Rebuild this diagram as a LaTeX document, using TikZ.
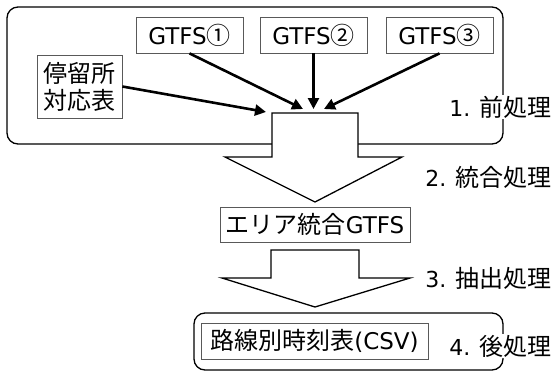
\documentclass[tikz,border=0pt]{standalone}
\usepackage{fontspec}
\setmainfont{DejaVu Sans}
\newfontfamily\cjk{Noto Sans CJK JP}
\newcommand\jpx[1]{{\cjk\fontsize{24}{27}\selectfont #1}}
\usetikzlibrary{arrows.meta}
\begin{document}
\begin{tikzpicture}[x=1pt,y=-1pt,
  txtbox/.style={draw=black!65,line width=0.8pt,inner sep=0pt,font=\fontsize{23}{27}\selectfont,align=center},
  lbl/.style={fill=white,inner sep=1pt,anchor=east,font=\fontsize{22}{26}\selectfont},
  grp/.style={draw=black,line width=1.3pt,rounded corners=11pt},
  fat/.style={draw=black,fill=white,line width=1.3pt},
  thick arrow/.style={line width=2.6pt,-{Triangle[length=11pt,width=11pt]}}]
\useasboundingbox (0,0) rectangle (555,376);
% group frames
\draw[grp] (7,7) rectangle (503,144);
\draw[grp] (194,313) rectangle (503,370);
% source boxes
\node[txtbox,minimum width=107pt,minimum height=36pt] (g1) at (189.5,35) {GTFS\jpx{①}};
\node[txtbox,minimum width=107pt,minimum height=36pt] (g2) at (313.5,35) {GTFS\jpx{②}};
\node[txtbox,minimum width=107pt,minimum height=36pt] (g3) at (439.5,35) {GTFS\jpx{③}};
\node[txtbox,minimum width=85pt,minimum height=63pt,font=\cjk\fontsize{24}{27}\selectfont] (tab) at (79.5,86.5) {停留所\\対応表};
% fat arrows
\draw[fat] (272,113) -- (358,113) -- (358,157) -- (402,157) -- (315,202) -- (225,157) -- (272,157) -- cycle;
\draw[fat] (271,250) -- (359,250) -- (359,278) -- (410,278) -- (315,307) -- (222,278) -- (271,278) -- cycle;
% merge targets
\coordinate (t1) at (303,109);
\coordinate (t2) at (313.5,109);
\coordinate (t3) at (324,109);
\coordinate (t0) at (266,112);
\draw[thick arrow] (g1.south) -- (t1);
\draw[thick arrow] (g2.south) -- (t2);
\draw[thick arrow] (g3.south) -- (t3);
\draw[thick arrow] (tab.east) -- (t0);
% result boxes
\node[txtbox,minimum width=190pt,minimum height=35pt] (area) at (315,224.5) {\jpx{エリア統合}GTFS};
\node[txtbox,minimum width=227pt,minimum height=36pt] (csv) at (314.5,341) {\jpx{路線別時刻表}(CSV)};
% labels
\node[lbl] (l1) at (553,107) {1. \jpx{前処理}};
\node[lbl] (l2) at (553,177) {2. \jpx{統合処理}};
\node[lbl] (l3) at (553,278) {3. \jpx{抽出処理}};
\node[lbl] (l4) at (553,346) {4. \jpx{後処理}};
\end{tikzpicture}
\end{document}
